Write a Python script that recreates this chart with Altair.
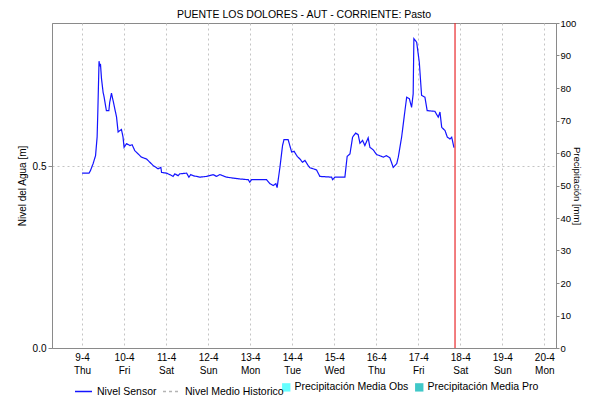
import altair as alt
import pandas as pd

# ---------------- data ----------------
TITLE = "PUENTE LOS DOLORES - AUT - CORRIENTE: Pasto"
START = "2026-04-09 00:00"

# hours after 9-4 00:00 and water level [m]
horas = [0, 4.0, 4.8, 6.3, 7.7, 8.6, 9.0, 9.7, 10.1, 10.5,
         11.1, 12.0, 12.6, 13.9, 15.3, 15.8, 16.8, 17.7, 18.7, 19.7,
         20.6, 21.5, 22.5, 23.4, 24.0, 25.4, 27.3, 28.6, 30.1, 32.0,
         33.9, 36.8, 38.7, 40.6, 43.4, 45.0, 45.4, 48.2, 50.1, 52.0,
         53.0, 54.9, 55.8, 59.7, 61.0, 62.1, 63.4, 67.3, 71.1, 74.9,
         76.8, 78.7, 82.5, 85.4, 90.1, 94.9, 95.8, 96.8, 105.4, 107.3,
         109.1, 110.7, 111.4, 113.0, 114.5, 115.3, 117.7, 119.7, 121.1, 122.9,
         124.4, 125.9, 127.3, 129.1, 130.1, 133.9, 135.8, 142.5, 143.1, 144.4,
         150.1, 151.4, 153.0, 154.5, 156.2, 157.7, 158.7, 160.2, 161.5, 163.4,
         164.4, 166.3, 168.2, 170.1, 172.0, 173.9, 175.8, 177.7, 179.7, 180.6,
         182.5, 184.4, 185.4, 186.9, 188.2, 189.1, 189.5, 191.1, 192.6, 193.9,
         195.8, 197.1, 201.5, 203.4, 204.4, 205.4, 207.3, 208.6, 210.1, 211.1,
         212.4]
nivel = [0.481, 0.481, 0.488, 0.507, 0.529, 0.580, 0.649, 0.789, 0.775, 0.782,
         0.741, 0.704, 0.690, 0.653, 0.653, 0.676, 0.701, 0.681, 0.658, 0.635,
         0.594, 0.598, 0.601, 0.580, 0.552, 0.562, 0.557, 0.559, 0.543, 0.534,
         0.525, 0.520, 0.511, 0.502, 0.493, 0.497, 0.483, 0.481, 0.477, 0.472,
         0.479, 0.474, 0.479, 0.481, 0.470, 0.477, 0.474, 0.470, 0.472, 0.477,
         0.472, 0.477, 0.470, 0.468, 0.465, 0.463, 0.456, 0.463, 0.463, 0.452,
         0.447, 0.452, 0.441, 0.497, 0.557, 0.573, 0.573, 0.539, 0.541, 0.527,
         0.520, 0.511, 0.516, 0.502, 0.496, 0.490, 0.472, 0.470, 0.463, 0.470,
         0.470, 0.527, 0.534, 0.580, 0.591, 0.587, 0.563, 0.571, 0.557, 0.578,
         0.552, 0.545, 0.532, 0.529, 0.525, 0.529, 0.523, 0.497, 0.507, 0.525,
         0.580, 0.653, 0.690, 0.686, 0.662, 0.699, 0.851, 0.841, 0.786, 0.695,
         0.690, 0.653, 0.651, 0.635, 0.649, 0.607, 0.598, 0.580, 0.575, 0.580,
         0.551]

series_nivel = ["Nivel Sensor", "Nivel Medio Historico"]
colores_nivel = ["#1414ff", "#b4b4b4"]
series_prec = ["Precipitación Media Obs", "Precipitación Media Pro"]
colores_prec = ["#66ffff", "#40c8c8"]

dias_prec = ["2026-04-09", "2026-04-10", "2026-04-11", "2026-04-12", "2026-04-13",
             "2026-04-14", "2026-04-15", "2026-04-16", "2026-04-17"]
prec_obs = [0, 0, 0, 0, 0, 0, 0, 0, 0]

ahora = "2026-04-17 21:00"

# ---------------- tables ----------------
t0 = pd.Timestamp(START)
df_nivel = pd.DataFrame({
    "t": t0 + pd.to_timedelta(horas, unit="h"),
    "nivel": nivel,
    "serie": "Nivel Sensor",
})
df_prec = pd.DataFrame({
    "t": pd.to_datetime(dias_prec),
    "prec": prec_obs,
    "tipo": "Precipitación Media Obs",
})
df_now = pd.DataFrame({"t": [pd.Timestamp(ahora)]})

FONT = "Liberation Sans"
x_dom = [alt.DateTime(year=2026, month=4, date=8, hours=6, minutes=50),
         alt.DateTime(year=2026, month=4, date=20, hours=6, minutes=40)]
x_vals = [alt.DateTime(year=2026, month=4, date=d) for d in range(9, 21)]
x_scale = alt.Scale(domain=x_dom, nice=False, padding=0)

x_axis = alt.Axis(
    values=x_vals, title=None, grid=True, gridDash=[2, 3], gridColor="#c4c4c4",
    ticks=False, domainColor="#8a8a8a",
    labelExpr="[timeFormat(datum.value, '%-d-%-m'), timeFormat(datum.value, '%a')]",
    labelFont=FONT, labelFontSize=10, labelColor="#000000", labelLineHeight=13,
    labelPadding=4, labelOverlap=False,
)

leg_line = alt.Legend(orient="none", legendX=22, legendY=359, direction="horizontal",
                      title=None, symbolType="stroke", symbolSize=289,
                      symbolStrokeWidth=1.4, columnPadding=3, labelOffset=4,
                      labelFont=FONT, labelFontSize=10.5, labelColor="#000000")
leg_bar = alt.Legend(orient="none", legendX=229, legendY=359, direction="horizontal",
                     title=None, symbolType="square", symbolSize=70,
                     columnPadding=5, labelOffset=3, symbolStrokeWidth=0,
                     labelFont=FONT, labelFontSize=10.5, labelColor="#000000")

bars = alt.Chart(df_prec).mark_bar().encode(
    x=alt.X("t:T", scale=x_scale, axis=x_axis),
    y=alt.Y("prec:Q", scale=alt.Scale(domain=[0, 100], nice=False),
            axis=alt.Axis(orient="right", values=list(range(0, 101, 10)),
                          title="Precipitación [mm]", grid=False, tickSize=3,
                          tickColor="#8a8a8a", domainColor="#8a8a8a",
                          labelFont=FONT, labelFontSize=9.5, labelColor="#000000",
                          labelPadding=1, titleFont=FONT, titleFontSize=9.5,
                          titleFontWeight="normal", titleColor="#000000",
                          titlePadding=-4)),
    fill=alt.Fill("tipo:N", scale=alt.Scale(domain=series_prec, range=colores_prec),
                  legend=leg_bar),
)

line = alt.Chart(df_nivel).mark_line(strokeWidth=1.2, interpolate="linear").encode(
    x=alt.X("t:T", scale=x_scale, axis=x_axis),
    y=alt.Y("nivel:Q", scale=alt.Scale(domain=[0, 0.894], nice=False),
            axis=alt.Axis(orient="left", values=[0, 0.5], format=".1f",
                          title="Nivel del Agua [m]", grid=True, gridDash=[2, 3],
                          gridColor="#c4c4c4", tickSize=4, tickColor="#8a8a8a",
                          domainColor="#8a8a8a", labelFont=FONT, labelFontSize=10,
                          labelColor="#000000", labelPadding=2, titleFont=FONT,
                          titleFontSize=10, titleFontWeight="normal",
                          titleColor="#000000", titlePadding=5)),
    stroke=alt.Stroke("serie:N", scale=alt.Scale(domain=series_nivel, range=colores_nivel),
                      legend=leg_line),
    strokeDash=alt.StrokeDash("serie:N",
                              scale=alt.Scale(domain=series_nivel, range=[[1, 0], [3, 3]]),
                              legend=leg_line),
)

rule = alt.Chart(df_now).mark_rule(color="#e8272a", strokeWidth=1.2).encode(
    x=alt.X("t:T", scale=x_scale),
)

chart = alt.layer(bars, line, rule).resolve_scale(y="independent").properties(
    width=504, height=325,
    autosize=alt.AutoSizeParams(type="none"),
    padding={"left": 44, "top": 15, "right": 26, "bottom": 48},
    title=alt.TitleParams(TITLE, font=FONT, fontSize=10.5, fontWeight="normal",
                          color="#000000", anchor="middle", offset=5, dy=7),
).configure_view(stroke="#8a8a8a", strokeWidth=1)

chart.save("out.html", embed_options={"renderer": "svg", "actions": False})
